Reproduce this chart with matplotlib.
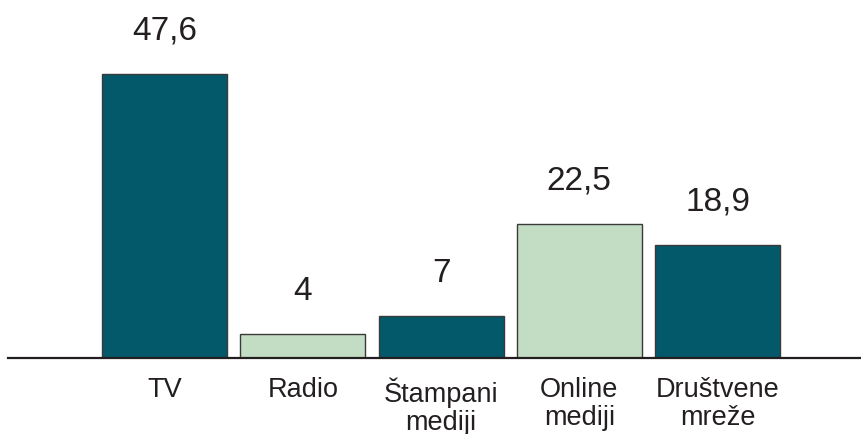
import matplotlib.pyplot as plt

plt.rcParams['font.family'] = ['Liberation Sans', 'DejaVu Sans']

# media shares (%)
categories = ['TV', 'Radio', 'Štampani\nmediji', 'Online\nmediji', 'Društvene\nmreže']
values = [47.6, 4, 7, 22.5, 18.9]
labels = ['47,6', '4', '7', '22,5', '18,9']

dark = '#03596A'
light = '#C3DCC4'
colors = [dark, light, dark, light, dark]

fig = plt.figure(figsize=(8.62, 4.35), dpi=100)
ax = fig.add_axes([0, 0.1747, 1, 0.8253])

x = list(range(len(values)))
bars = ax.bar(x, values, width=0.904, color=colors, edgecolor='#3a3a3a', linewidth=1)

for xi, v, lab in zip(x, values, labels):
    ax.annotate(lab, (xi, v), xytext=(0, 25.5), textcoords='offset points',
                ha='center', va='baseline', fontsize=24, color='#231f20')

ax.set_xlim(-1.19, 5.045)
ax.set_ylim(0, 60.17)
ax.set_xticks(x)
ax.set_xticklabels(categories, fontsize=19.5, color='#231f20', linespacing=1.12)
ax.tick_params(axis='x', length=0, pad=13)
ax.set_yticks([])

for s in ['top', 'left', 'right']:
    ax.spines[s].set_visible(False)
ax.spines['bottom'].set_linewidth(1.6)
ax.spines['bottom'].set_color('#231f20')
ax.spines['bottom'].set_bounds(-1.132, 5.045)

fig.savefig('out.png', dpi=100)
